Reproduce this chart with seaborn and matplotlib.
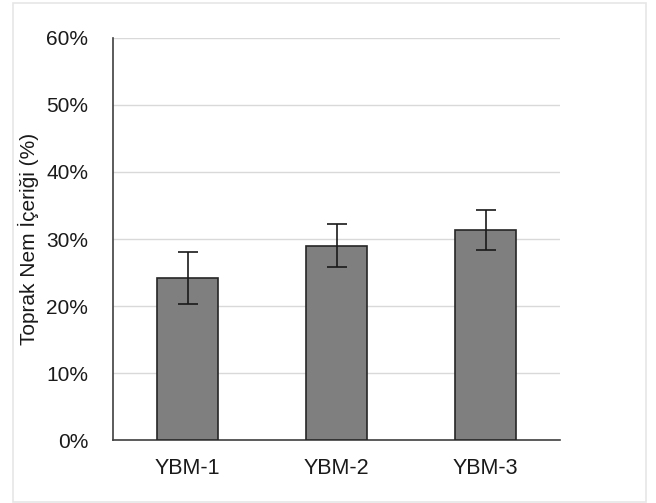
import seaborn as sns
import matplotlib.pyplot as plt
import matplotlib.patches as mpatches
import matplotlib.ticker as mtick
import pandas as pd

istasyonlar = ["YBM-1", "YBM-2", "YBM-3"]
nem_ortalama = [24.2, 29.0, 31.3]
nem_hata = [3.9, 3.2, 3.0]
y_ticks = [0, 10, 20, 30, 40, 50, 60]

sns.set_theme(style="white")
plt.rcParams['font.family'] = ['Liberation Sans', 'DejaVu Sans']

df = pd.DataFrame({"istasyon": istasyonlar, "nem": nem_ortalama})

fig = plt.figure(figsize=(6.56, 5.03), dpi=100)
ax = fig.add_axes([0.1723, 0.1252, 0.6814, 0.7993])

# dis cerceve
fig.patches.append(mpatches.Rectangle((13 / 656, 1 / 503), 633 / 656, 499 / 503,
                                      transform=fig.transFigure, fill=False,
                                      edgecolor="#e6e6e6", linewidth=1.2))

sns.barplot(data=df, x="istasyon", y="nem", color="#7f7f7f", width=0.41,
            edgecolor="#262626", linewidth=1.2, saturation=1, errorbar=None,
            ax=ax, zorder=3)
ax.errorbar(range(len(istasyonlar)), nem_ortalama, yerr=nem_hata, fmt="none",
            ecolor="#1a1a1a", elinewidth=1.2, capsize=7, capthick=1.2, zorder=4)

ax.set_ylim(0, 60)
ax.set_xlim(-0.5, 2.5)
ax.set_yticks(y_ticks)
ax.yaxis.set_major_formatter(mtick.PercentFormatter(decimals=0))
ax.grid(axis="y", color="#d9d9d9", linewidth=1, zorder=0)
ax.set_axisbelow(True)

for s in ["top", "right"]:
    ax.spines[s].set_visible(False)
for s in ["left", "bottom"]:
    ax.spines[s].set_color("#404040")
    ax.spines[s].set_linewidth(1.2)

ax.tick_params(axis="both", length=0)
ax.tick_params(axis="y", labelsize=15, pad=18, labelcolor="#1a1a1a")
ax.tick_params(axis="x", labelsize=15.5, pad=13, labelcolor="#1a1a1a")
ax.set_xlabel("")
ax.set_ylabel("Toprak Nem İçeriği (%)", fontsize=15, color="#1a1a1a", labelpad=5)

fig.savefig("out.png", dpi=100)
plt.close()
